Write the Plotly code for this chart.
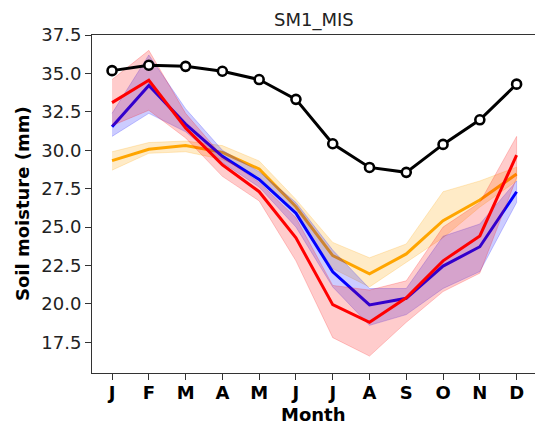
import plotly.graph_objects as go

# Monthly soil moisture climatology (mm)
months = list(range(1, 13))
month_labels = ["J", "F", "M", "A", "M", "J", "J", "A", "S", "O", "N", "D"]

obs = [35.18, 35.53, 35.46, 35.14, 34.6, 33.31, 30.42, 28.88, 28.56, 30.38, 31.98, 34.3]

red_mean = [33.1, 34.55, 31.45, 29.05, 27.3, 24.3, 19.95, 18.8, 20.4, 22.8, 24.42, 29.68]
red_lo = [31.6, 32.6, 30.8, 28.3, 26.7, 22.8, 17.8, 16.6, 18.8, 20.8, 22.0, 28.2]
red_hi = [34.6, 36.5, 32.4, 29.6, 27.9, 25.6, 21.2, 20.9, 21.5, 25.0, 26.6, 30.9]

blue_mean = [31.53, 34.22, 31.7, 29.6, 28.1, 25.9, 22.09, 19.93, 20.36, 22.46, 23.72, 27.3]
blue_lo = [30.9, 32.4, 31.2, 29.2, 27.6, 25.0, 21.1, 18.6, 19.3, 21.0, 22.1, 26.6]
blue_hi = [32.4, 36.2, 32.7, 30.0, 28.6, 26.6, 23.5, 21.0, 21.0, 24.4, 25.2, 28.0]

orange_mean = [29.32, 30.06, 30.3, 29.86, 28.78, 26.32, 23.14, 21.96, 23.25, 25.41, 26.76, 28.45]
orange_lo = [28.7, 29.8, 29.9, 29.4, 28.3, 25.9, 22.3, 21.1, 22.7, 24.3, 26.3, 28.0]
orange_hi = [29.9, 30.5, 30.6, 30.3, 29.3, 26.8, 24.0, 23.0, 23.9, 27.3, 28.0, 28.9]

y_ticks = [17.5, 20.0, 22.5, 25.0, 27.5, 30.0, 32.5, 35.0, 37.5]

W, H = 535, 424
ML, MR, MT, MB = 92, 0, 35, 51
FONT = "DejaVu Sans"

fig = go.Figure()


def add_series(mean, lo, hi, line_color, fill_color):
    fig.add_trace(go.Scatter(
        x=months + months[::-1], y=hi + lo[::-1],
        fill="toself", fillcolor=fill_color,
        line=dict(color=fill_color, width=1),
        mode="lines", hoverinfo="skip", showlegend=False))
    fig.add_trace(go.Scatter(
        x=months, y=mean, mode="lines",
        line=dict(color=line_color, width=3), showlegend=False))


add_series(orange_mean, orange_lo, orange_hi, "orange", "rgba(255,165,0,0.22)")
add_series(blue_mean, blue_lo, blue_hi, "blue", "rgba(0,0,255,0.2)")
add_series(red_mean, red_lo, red_hi, "red", "rgba(255,0,0,0.2)")

fig.add_trace(go.Scatter(
    x=months, y=obs, mode="lines+markers",
    line=dict(color="black", width=3),
    marker=dict(symbol="circle", size=9, color="white",
                line=dict(color="black", width=2.6)),
    showlegend=False))

axis_color = "#333333"

fig.update_xaxes(
    range=[0.455, 12.5], tickmode="array", tickvals=months, ticktext=month_labels,
    tickfont=dict(family=FONT, size=18, color="black", weight="bold"),
    ticks="outside", ticklen=6, tickwidth=1, tickcolor=axis_color,
    ticklabelstandoff=-3,
    showline=True, linecolor=axis_color, linewidth=1, mirror=True,
    showgrid=False, zeroline=False)

fig.update_yaxes(
    range=[15.5, 37.5], tickmode="array", tickvals=y_ticks,
    ticktext=[f"{v:.1f}" for v in y_ticks],
    tickfont=dict(family=FONT, size=18, color="#222222"),
    ticks="outside", ticklen=6, tickwidth=1, tickcolor=axis_color,
    showline=True, linecolor=axis_color, linewidth=1, mirror=False,
    showgrid=False, zeroline=False)

plot_w = W - ML - MR
plot_h = H - MT - MB

fig.update_layout(
    width=W, height=H,
    margin=dict(l=ML, r=MR, t=MT, b=MB, pad=0),
    paper_bgcolor="white", plot_bgcolor="white",
    font=dict(family=FONT, size=18, color="black"),
    annotations=[
        dict(text="SM1_MIS", xref="paper", yref="paper",
             x=0.5, y=1 + 15 / plot_h, xanchor="center", yanchor="middle",
             showarrow=False, font=dict(family=FONT, size=18, color="#222222")),
        dict(text="Soil moisture (mm)", xref="paper", yref="paper",
             x=(22 - ML) / plot_w, y=0.5, xanchor="center", yanchor="middle",
             textangle=-90, showarrow=False,
             font=dict(family=FONT, size=18, color="black", weight="bold")),
        dict(text="Month", xref="paper", yref="paper",
             x=0.5, y=-(414 - (H - MB)) / plot_h, xanchor="center", yanchor="middle",
             showarrow=False,
             font=dict(family=FONT, size=18, color="black", weight="bold")),
    ],
)

fig.write_html("out.html")
